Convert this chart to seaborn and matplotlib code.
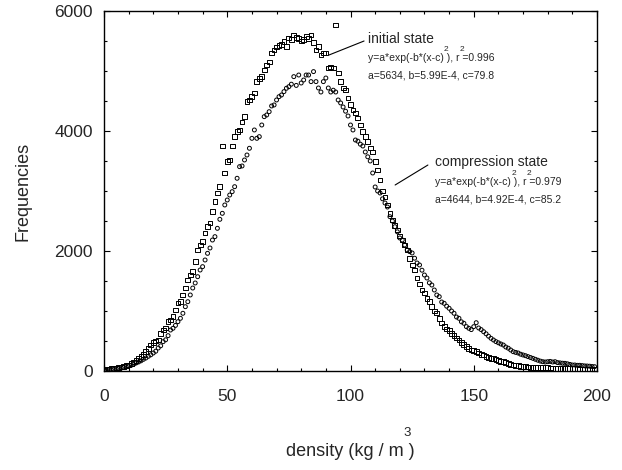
import seaborn as sns
import matplotlib.pyplot as plt
import pandas as pd

sns.set_theme(style="ticks")
plt.rcParams['font.family'] = ['Liberation Sans', 'DejaVu Sans']

# density classes (kg/m3), one point per class
density = list(range(0, 200))

# initial state (squares)
initial = [
    15, 20, 28, 35, 42, 50, 58, 68, 80, 90,
    100, 125, 150, 175, 205, 239, 270, 322, 370, 433,
    470, 500, 517, 628, 683, 717, 822, 850, 905, 1017,
    1133, 1155, 1267, 1383, 1517, 1600, 1655, 1822, 2017, 2100,
    2155, 2300, 2405, 2467, 2655, 2822, 2967, 3072, 3750, 3300,
    3490, 3517, 3750, 3905, 3990, 4017, 4150, 4239, 4490, 4517,
    4572, 4633, 4823, 4880, 4906, 5017, 5100, 5150, 5300, 5350,
    5400, 5420, 5440, 5490, 5406, 5550, 5530, 5600, 5560, 5540,
    5500, 5520, 5573, 5540, 5600, 5470, 5350, 5406, 5268, 5300,
    5300, 5050, 5067, 5050, 5768, 4967, 4823, 4717, 4684, 4550,
    4440, 4350, 4300, 4217, 4100, 3990, 3905, 3822, 3717, 3650,
    3490, 3350, 3183, 3000, 2900, 2767, 2620, 2517, 2420, 2350,
    2250, 2183, 2100, 2017, 1880, 1767, 1683, 1550, 1450, 1350,
    1300, 1210, 1155, 1072, 1000, 967, 880, 800, 739, 700,
    680, 630, 590, 550, 517, 480, 440, 405, 375, 350,
    339, 322, 300, 280, 267, 245, 230, 215, 211, 190,
    175, 165, 155, 140, 125, 110, 100, 92, 85, 78,
    72, 70, 66, 63, 61, 60, 58, 57, 56, 54,
    52, 50, 48, 47, 45, 44, 42, 41, 40, 38,
    37, 36, 35, 33, 32, 31, 30, 28, 27, 25,
]

# compression state (circles)
compression = [
    8, 12, 16, 22, 28, 35, 42, 50, 60, 70,
    80, 95, 112, 133, 150, 170, 195, 217, 245, 270,
    300, 330, 383, 420, 489, 520, 589, 683, 712, 760,
    822, 878, 962, 1072, 1155, 1267, 1383, 1467, 1572, 1683,
    1739, 1850, 1961, 2050, 2183, 2239, 2378, 2528, 2628, 2767,
    2850, 2933, 2989, 3072, 3212, 3406, 3417, 3517, 3600, 3712,
    3878, 4017, 3878, 3906, 4100, 4239, 4267, 4322, 4417, 4434,
    4517, 4572, 4600, 4656, 4712, 4739, 4780, 4906, 4760, 4933,
    4800, 4850, 4933, 4933, 4823, 4990, 4823, 4717, 4650, 4823,
    4883, 4717, 4650, 4680, 4650, 4517, 4467, 4400, 4330, 4250,
    4100, 4017, 3850, 3830, 3780, 3750, 3650, 3570, 3500, 3300,
    3067, 3000, 2967, 2870, 2800, 2733, 2572, 2500, 2405, 2320,
    2217, 2183, 2100, 2017, 1990, 1967, 1880, 1800, 1767, 1680,
    1600, 1550, 1470, 1433, 1350, 1267, 1239, 1150, 1128, 1080,
    1045, 1000, 962, 900, 878, 820, 795, 740, 712, 690,
    739, 805, 717, 690, 655, 620, 580, 545, 517, 490,
    470, 450, 433, 400, 380, 350, 322, 310, 300, 280,
    267, 255, 240, 225, 211, 195, 180, 165, 155, 150,
    155, 160, 150, 155, 140, 135, 130, 128, 120, 110,
    100, 100, 95, 95, 90, 85, 83, 80, 75, 72,
]

df = pd.DataFrame({'density': density, 'initial': initial, 'compression': compression})

W, H = 622, 470
fig = plt.figure(figsize=(W / 100, H / 100), dpi=100)
ax = fig.add_axes([104 / W, (H - 371) / H, 493 / W, 360 / H])


def px(x, y):
    # pixel position -> figure fraction
    return x / W, (H - y) / H


sns.scatterplot(data=df, x='density', y='compression', marker='o', s=8,
                facecolor='none', edgecolor='black', linewidth=0.7, ax=ax, zorder=3)
sns.scatterplot(data=df, x='density', y='initial', marker='s', s=12,
                facecolor='none', edgecolor='black', linewidth=0.7, ax=ax, zorder=3)

ax.set_xlim(0, 200)
ax.set_ylim(0, 6000)
ax.set_xticks([0, 50, 100, 150, 200])
ax.set_xticks(range(0, 201, 10), minor=True)
ax.set_yticks([0, 2000, 4000, 6000])
ax.set_yticks(range(0, 6001, 500), minor=True)
ax.tick_params(which='both', direction='in', top=True, right=True, width=0.8, color='black')
ax.tick_params(which='major', length=4, labelsize=12.5)
ax.tick_params(which='minor', length=2.5)
ax.tick_params(axis='x', which='major', pad=13)
ax.tick_params(axis='y', which='major', pad=8)
for sp in ax.spines.values():
    sp.set_linewidth(1.0)
    sp.set_color('black')
ax.set_xlabel('')
ax.set_ylabel('')

fig.text(*px(23, 191), 'Frequencies', rotation=90, ha='center', va='center', fontsize=13)
fig.text(*px(350, 452), 'density (kg / m )', ha='center', va='center', fontsize=13)
fig.text(*px(407, 433), '3', ha='center', va='center', fontsize=9.5)

# annotations
ax.plot([91.3, 105.5], [5267, 5500], color='black', lw=0.8)
ax.plot([118.1, 131.4], [3100, 3433], color='black', lw=0.8)

fs = 7.5
notes = [
    (107.1, 5468, 5167, 4867, 'initial state', '0.996', 'a=5634, b=5.99E-4, c=79.8'),
    (134.3, 3417, 3100, 2806, 'compression state', '0.979', 'a=4644, b=4.92E-4, c=85.2'),
]
for x0, y_t, y_f, y_p, title, r2, params in notes:
    ax.text(x0, y_t, title, fontsize=10, va='baseline')
    ax.text(x0, y_f, 'y=a*exp(-b*(x-c) ), r =' + r2, fontsize=fs, va='baseline')
    ax.text(x0, y_p, params, fontsize=fs, va='baseline')
    for em in (7.251, 8.751):
        ax.annotate('2', (x0, y_f), xytext=(em * fs + 0.4, 7.5), textcoords='offset points',
                    fontsize=6, va='baseline')

fig.savefig('out.png', dpi=100)
